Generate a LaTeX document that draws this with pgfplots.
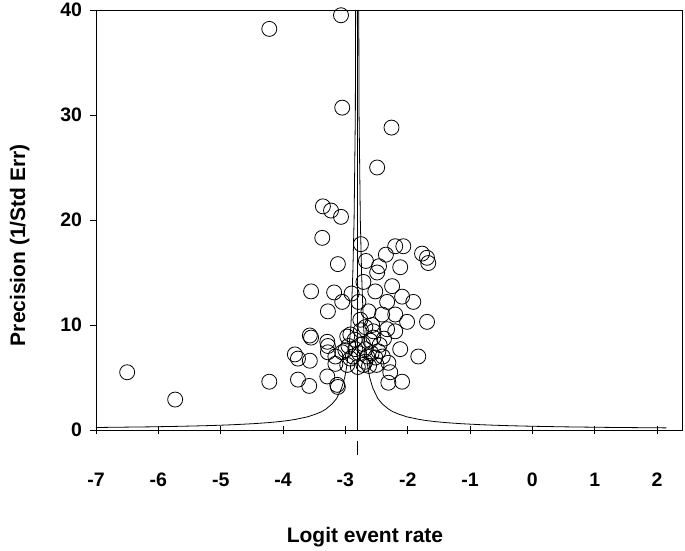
\documentclass[border=0pt]{standalone}
\usepackage{pgfplots}
\pgfplotsset{compat=1.18}
\usepackage{fontspec}
\setmainfont{Liberation Sans}

\begin{document}
\begin{tikzpicture}
\useasboundingbox (-96pt,-121pt) rectangle (589pt,430pt);
\begin{axis}[
    scale only axis,
    width=586pt, height=420pt,
    xmin=-7, xmax=2.4,
    ymin=0, ymax=40,
    xtick={-7,-6,...,2},
    ytick={0,10,20,30,40},
    tick pos=left,
    tick align=center,
    major tick length=7pt,
    ytick style={xshift=-2.5pt},
    axis line style={line width=0.8pt},
    every tick/.style={black, line width=0.8pt},
    /pgf/number format/assume math mode=true,
    tick label style={font=\fontsize{19.5}{21}\selectfont\bfseries},
    xticklabel style={yshift=-36pt},
    yticklabel style={xshift=-7pt},
    xlabel={Logit event rate},
    ylabel={Precision (1/Std Err)},
    label style={font=\fontsize{21}{23}\selectfont\bfseries},
    xlabel style={at={(axis description cs:0.459,-0.255)}, anchor=center},
    ylabel style={at={(axis description cs:-0.13,0.44)}, anchor=center},
    clip=false,
]

% studies
\addplot[only marks, mark=o, mark size=7.5pt, mark options={line width=0.8pt}, black] coordinates {
    (-6.50,5.5) (-5.73,2.9) (-4.22,38.2) (-3.07,39.5) (-3.05,30.7)
    (-2.26,28.8) (-2.49,25.0) (-3.36,21.3) (-3.23,20.9) (-3.07,20.3)
    (-3.37,18.3) (-3.12,15.8) (-2.75,17.7) (-2.67,16.1) (-2.46,15.6)
    (-2.35,16.7) (-2.20,17.5) (-2.07,17.5) (-2.12,15.5) (-1.77,16.8)
    (-1.69,16.4) (-1.67,15.9) (-4.22,4.6) (-3.81,7.2) (-3.76,6.8)
    (-3.57,9.0) (-3.55,8.8) (-3.57,6.6) (-3.76,4.8) (-3.58,4.2)
    (-3.55,13.2) (-3.18,13.1) (-3.05,12.2) (-3.28,11.3) (-2.90,13.0)
    (-2.71,14.1) (-2.52,13.2) (-2.49,15.0) (-2.25,13.7) (-2.09,12.7)
    (-1.91,12.2) (-2.33,12.2) (-2.79,12.2) (-2.63,11.3) (-2.41,11.0)
    (-2.20,11.0) (-2.01,10.3) (-1.69,10.3) (-2.76,10.5) (-2.57,10.0)
    (-2.33,9.6) (-2.20,9.4) (-3.29,8.4) (-3.28,8.0) (-2.92,9.1)
    (-2.55,8.8) (-2.12,7.7) (-1.83,7.0) (-3.05,7.4) (-2.84,7.7)
    (-2.68,7.7) (-2.47,7.5) (-2.97,6.2) (-2.71,6.2) (-2.31,6.4)
    (-3.29,5.1) (-3.13,4.3) (-3.12,4.1) (-2.31,4.5) (-2.09,4.6)
    (-2.28,5.5) (-2.68,6.5) (-3.28,7.4) (-3.16,7.0) (-3.16,6.3)
    (-2.97,8.9) (-2.95,8.0) (-2.85,8.6) (-2.78,7.3) (-2.72,8.2)
    (-2.65,7.0) (-2.60,8.5) (-2.58,7.3) (-2.52,6.9) (-2.45,8.1)
    (-2.40,7.0) (-2.88,7.0) (-2.92,6.8) (-2.80,6.0) (-2.62,6.1)
    (-2.75,9.5) (-2.68,9.8) (-2.55,9.4) (-2.50,6.2) (-2.38,8.7)
    (-3.00,7.6)
};

% funnel, left limb
\addplot[black, line width=0.8pt] coordinates {
    (-7.00,0.239) (-6.14,0.3) (-5.67,0.35) (-5.31,0.4) (-5.03,0.45)
    (-4.81,0.5) (-4.48,0.6) (-4.24,0.7) (-4.06,0.8) (-3.92,0.9)
    (-3.81,1.0) (-3.61,1.25) (-3.48,1.5) (-3.38,1.75) (-3.31,2.0)
    (-3.21,2.5) (-3.14,3.0) (-3.10,3.5) (-3.06,4.0) (-3.01,5.0)
    (-2.98,6.0) (-2.94,8.0) (-2.91,10.0) (-2.88,15.0) (-2.86,20.0)
    (-2.84,30.0) (-2.835,40.0)
};

% funnel, right limb
\addplot[black, line width=0.8pt] coordinates {
    (2.15,0.202) (1.95,0.21) (1.19,0.25) (0.52,0.3) (0.05,0.35)
    (-0.31,0.4) (-0.59,0.45) (-0.81,0.5) (-1.14,0.6) (-1.38,0.7)
    (-1.56,0.8) (-1.70,0.9) (-1.81,1.0) (-2.01,1.25) (-2.14,1.5)
    (-2.24,1.75) (-2.31,2.0) (-2.41,2.5) (-2.48,3.0) (-2.52,3.5)
    (-2.56,4.0) (-2.61,5.0) (-2.64,6.0) (-2.685,8.0) (-2.71,10.0)
    (-2.74,15.0) (-2.76,20.0) (-2.78,30.0) (-2.785,40.0)
};

% pooled estimate
\addplot[black, line width=1.2pt] coordinates {(-2.81,0) (-2.81,40)};
\addplot[black, line width=1pt] coordinates {(-2.81,-1.0) (-2.81,-2.4)};

\end{axis}
\end{tikzpicture}
\end{document}
